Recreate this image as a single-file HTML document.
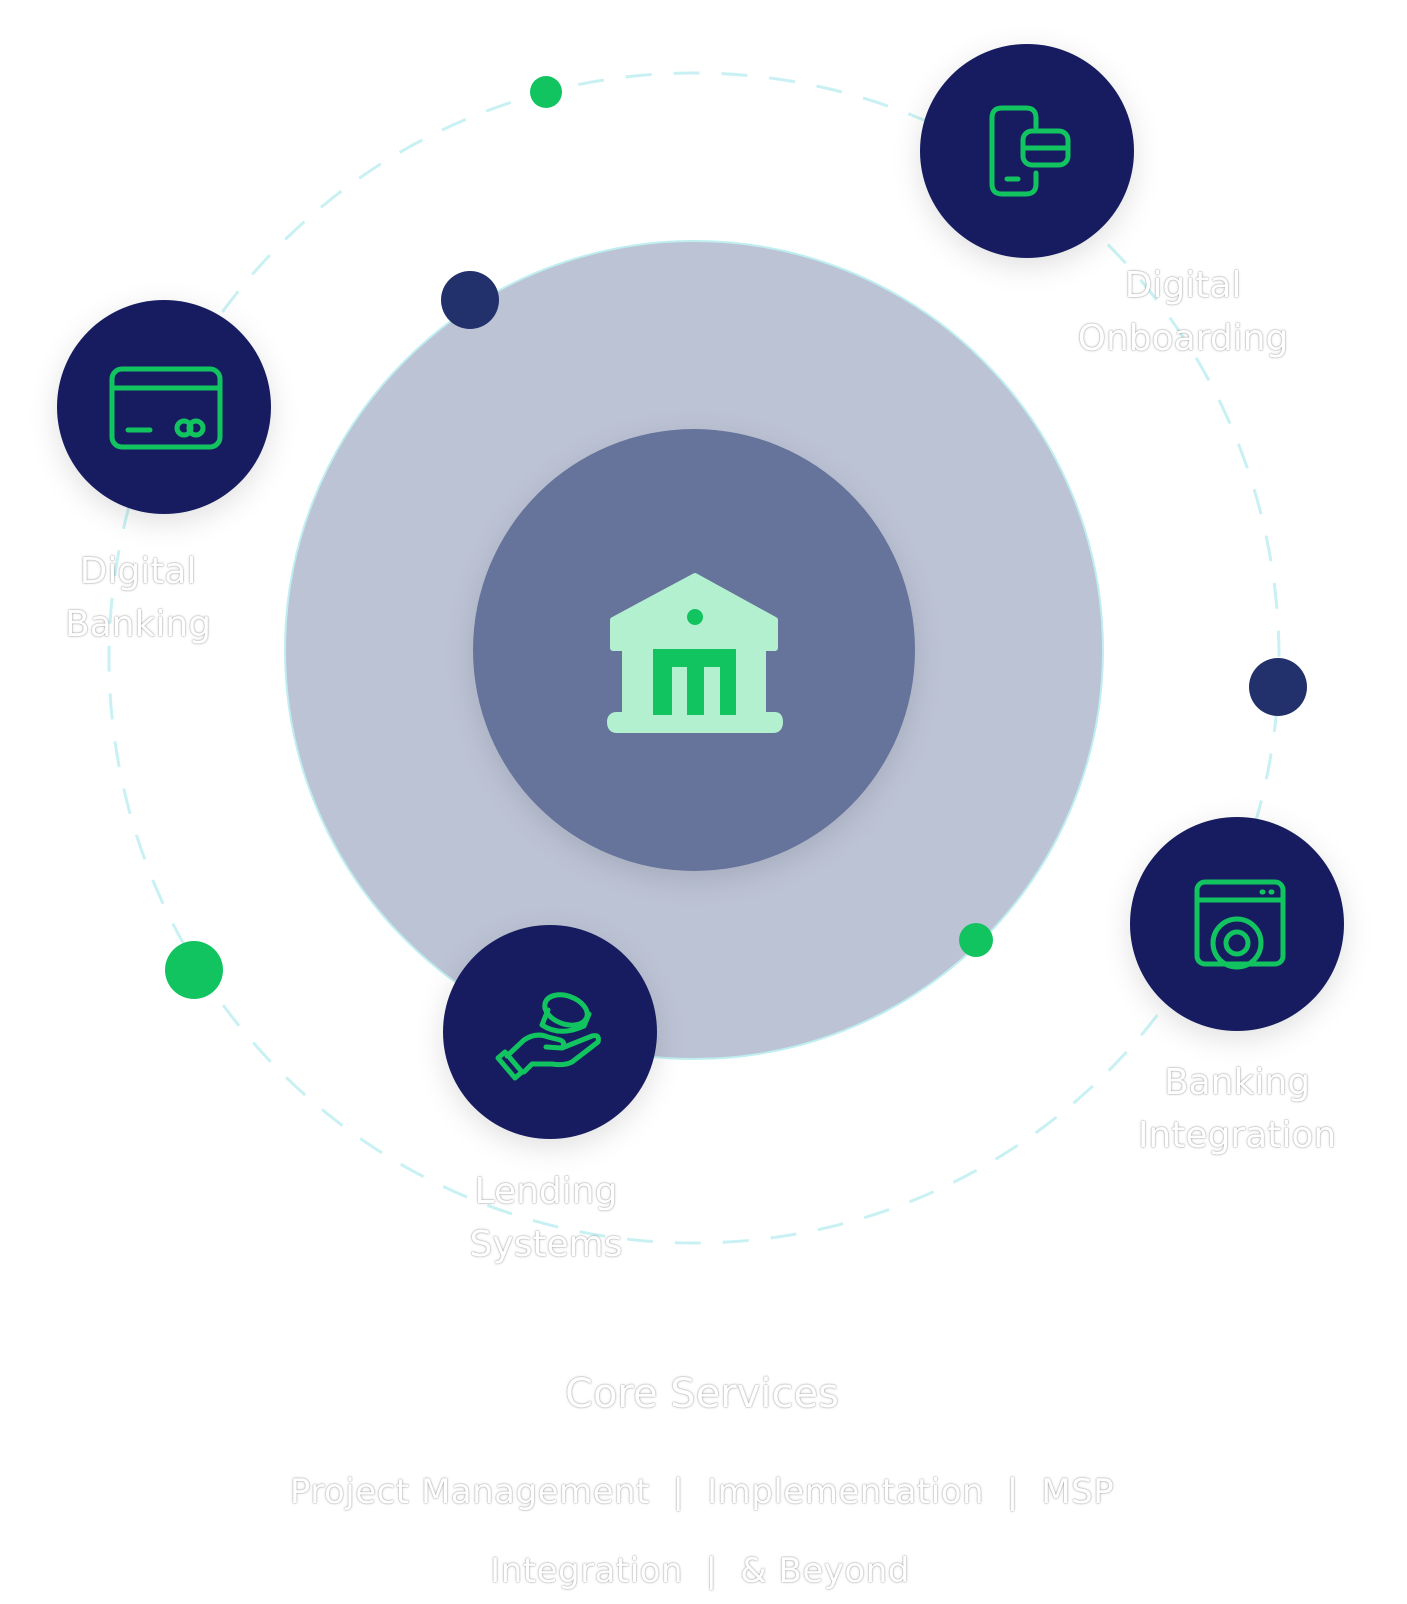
<!DOCTYPE html>
<html><head><meta charset="utf-8"><style>
html,body{margin:0;padding:0;background:#fff;}
body{width:1407px;height:1604px;position:relative;overflow:hidden;font-family:"DejaVu Sans","Liberation Sans",sans-serif;}
.t{position:absolute;color:#fff;text-shadow:0 0 1.5px rgba(0,0,0,.45),0 0 3px rgba(0,0,0,.15);text-align:center;white-space:nowrap;transform:translateX(-50%);line-height:1;}
</style></head><body>
<svg width="1407" height="1604" style="position:absolute;left:0;top:0">
<defs>
<filter id="sh" x="-30%" y="-30%" width="160%" height="160%"><feDropShadow dx="0" dy="8" stdDeviation="14" flood-color="#000" flood-opacity="0.12"/></filter>
</defs>
<circle cx="694" cy="658" r="585" fill="none" stroke="#c9f1f3" stroke-width="3" stroke-dasharray="26 22"/>
<circle cx="694" cy="650" r="409" fill="#bcc3d5" stroke="#bfeef0" stroke-width="2"/>
<circle cx="694" cy="650" r="221" fill="#66739a" filter="url(#sh)"/>
<path d="M695 576 L775 620 L775 648 L763 648 L763 715 L775 715 Q780 715 780 722 Q780 730 773 730 L617 730 Q610 730 610 722 Q610 715 617 715 L625 715 L625 648 L613 648 L613 620 Z" fill="#b3f0d0" stroke="#b3f0d0" stroke-width="6" stroke-linejoin="round"/>
<path d="M653 649 H736 V715 H720 V667 H704 V715 H687 V667 H672 V715 H653 Z" fill="#12c460"/>
<circle cx="695" cy="617" r="8" fill="#12c460"/>
<circle cx="546" cy="92" r="16" fill="#12c460"/>
<circle cx="470" cy="300" r="29" fill="#22306b"/>
<circle cx="1278" cy="687" r="29" fill="#22306b"/>
<circle cx="194" cy="970" r="29" fill="#12c460"/>
<circle cx="976" cy="940" r="17" fill="#12c460"/>
<g filter="url(#sh)">
<circle cx="1027" cy="151" r="107" fill="#151f5e"/>
<circle cx="164" cy="407" r="107" fill="#151f5e"/>
<circle cx="1237" cy="924" r="107" fill="#151f5e"/>
<circle cx="550" cy="1032" r="107" fill="#151f5e"/>
</g>
<g fill="none" stroke="#12c460" stroke-width="5" stroke-linecap="round" stroke-linejoin="round">
<path d="M1036 127 V118 Q1036 108 1026 108 H1002 Q992 108 992 118 V184 Q992 194 1002 194 H1026 Q1036 194 1036 184 V173"/>
<line x1="1007" y1="179" x2="1018" y2="179"/>
<rect x="1023" y="131" width="45" height="34" rx="9"/>
<line x1="1023" y1="148" x2="1068" y2="148"/>
<rect x="112" y="369" width="108" height="78" rx="10"/>
<line x1="112" y1="388" x2="220" y2="388"/>
<line x1="128" y1="430" x2="150" y2="430"/>
<circle cx="184" cy="428" r="7"/>
<circle cx="196" cy="428" r="7"/>
<rect x="1197" y="882" width="86" height="82" rx="8"/>
<line x1="1197" y1="900" x2="1283" y2="900"/>
<circle cx="1237" cy="943" r="24"/>
<circle cx="1237" cy="943" r="11"/>
<line x1="1262" y1="892" x2="1263" y2="892"/><line x1="1271" y1="892" x2="1272" y2="892"/>
<ellipse cx="566" cy="1010" rx="22" ry="14" transform="rotate(20 566 1010)"/>
<path d="M548 1010 L542 1025 Q560 1037 584 1026 L589 1014"/>
<path d="M507 1056 L524 1040 Q536 1032 548 1037 L560 1040 Q566 1042 562 1048 L546 1047 M562 1048 L592 1036 Q600 1034 598 1042 L572 1062 Q564 1066 552 1064 L532 1064 L524 1072"/>
<path d="M505 1052 L522 1072 L515 1078 L498 1058 Z"/>
</g>
</svg>
<div class="t" style="left:1183px;top:268px;font-size:36px">Digital</div>
<div class="t" style="left:1183px;top:321px;font-size:36px">Onboarding</div>
<div class="t" style="left:138px;top:554px;font-size:36px">Digital</div>
<div class="t" style="left:138px;top:607px;font-size:36px">Banking</div>
<div class="t" style="left:1237px;top:1065px;font-size:36px">Banking</div>
<div class="t" style="left:1237px;top:1118px;font-size:36px">Integration</div>
<div class="t" style="left:546px;top:1174px;font-size:36px">Lending</div>
<div class="t" style="left:546px;top:1227px;font-size:36px">Systems</div>
<div class="t" style="left:702px;top:1374px;font-size:40px">Core Services</div>
<div class="t" style="left:702px;top:1475px;font-size:34px;letter-spacing:0.5px">Project Management &nbsp;|&nbsp; Implementation &nbsp;|&nbsp; MSP</div>
<div class="t" style="left:700px;top:1554px;font-size:34px;letter-spacing:0.5px">Integration &nbsp;|&nbsp; &amp; Beyond</div>
</body></html>
